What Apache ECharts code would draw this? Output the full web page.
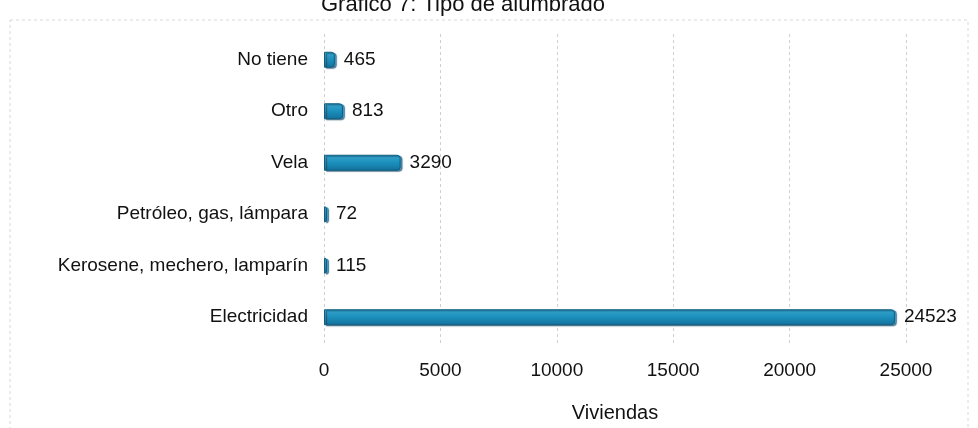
<!DOCTYPE html>
<html>
<head>
<meta charset="utf-8">
<script src="https://cdn.jsdelivr.net/npm/echarts@6/dist/echarts.min.js"></script>
<style>
  html, body { margin: 0; padding: 0; background: #fff; }
  #chart { width: 978px; height: 428px; }
</style>
</head>
<body>
<div id="chart"></div>
<script>
// categories from bottom to top
var categorias = ['Electricidad', 'Kerosene, mechero, lamparín', 'Petróleo, gas, lámpara', 'Vela', 'Otro', 'No tiene'];
var viviendas = [24523, 115, 72, 3290, 813, 465];
var ticksX = [0, 5000, 10000, 15000, 20000, 25000];

var chart = echarts.init(document.getElementById('chart'));

var option = {
    backgroundColor: '#fff',
    textStyle: { fontFamily: 'Liberation Sans', color: '#111' },
    title: {
        text: 'Gráfico 7: Tipo de alumbrado',
        left: 458,
        top: -11,
        textAlign: 'center',
        textStyle: { fontSize: 22, fontWeight: 'normal', color: '#111', fontFamily: 'Liberation Sans' }
    },
    graphic: [{
        type: 'rect',
        shape: { x: 10, y: 20, width: 958, height: 420 },
        style: { fill: 'none', stroke: '#d8d8d8', lineWidth: 1, lineDash: [3, 3] },
        silent: true,
        z: -1
    }],
    grid: { left: 324, right: 72, top: 34, bottom: 85 },
    xAxis: {
        type: 'value',
        min: 0,
        max: 25000,
        interval: 5000,
        name: 'Viviendas',
        nameLocation: 'middle',
        nameGap: 60,
        nameTextStyle: { fontSize: 20, color: '#111' },
        axisLine: { show: false },
        axisTick: { show: false },
        axisLabel: {
            fontSize: 19, color: '#111', margin: 18,
            formatter: function (v) { return ticksX.indexOf(v) >= 0 ? String(v) : ''; }
        },
        splitLine: { show: true, lineStyle: { color: '#cfcfcf', type: [3, 3], width: 1 } }
    },
    yAxis: {
        type: 'category',
        data: categorias,
        axisLine: { show: false },
        axisTick: { show: false },
        axisLabel: { fontSize: 19, color: '#111', margin: 16 }
    },
    series: [{
        type: 'bar',
        data: viviendas,
        barWidth: 16,
        barMinHeight: 3,
        itemStyle: {
            color: new echarts.graphic.LinearGradient(0, 0, 0, 1, [
                { offset: 0, color: '#3aa6cc' },
                { offset: 0.5, color: '#1b8fbc' },
                { offset: 1, color: '#13709a' }
            ]),
            borderColor: '#0f5f82',
            borderWidth: 1,
            borderRadius: [0, 3, 3, 0],
            shadowColor: 'rgba(10,60,90,0.6)',
            shadowOffsetX: 2,
            shadowOffsetY: 1,
            shadowBlur: 1
        },
        label: {
            show: true,
            position: 'right',
            distance: 9,
            fontSize: 19,
            color: '#111'
        }
    }]
};

chart.setOption(option);
</script>
</body>
</html>
